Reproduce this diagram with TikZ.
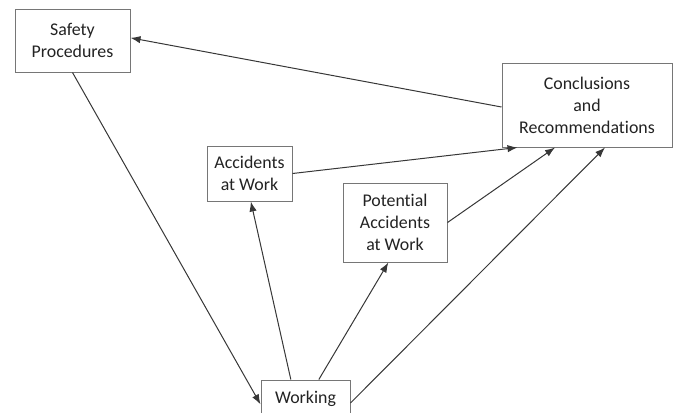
\documentclass[tikz,border=0pt]{standalone}
\usepackage{fontspec}
\setmainfont{Carlito}[Ligatures=NoCommon]
\usetikzlibrary{arrows.meta}

\tikzset{every picture/.style={line width=0.75pt}}
\tikzset{
  box/.style={draw={rgb, 255:red, 118; green, 118; blue, 118 }, fill=white, align=center, inner sep=0.75pt,
    text={rgb, 255:red, 35; green, 35; blue, 35 }, font=\fontsize{13.4}{16.5}\selectfont},
  link/.style={draw={rgb, 255:red, 55; green, 55; blue, 55 }, -{Latex[length=7.5pt,width=5.5pt]}}
}

\begin{document}
\begin{tikzpicture}[x=0.75pt,y=0.75pt,yscale=-1,xscale=1]
\useasboundingbox (0,0) rectangle (678,412);

% Text Node
\node [box, minimum width=86.25, minimum height=47.25] (safety) at (72.5,40.5) {Safety\\Procedures};
% Text Node
\node [box, minimum width=127.5, minimum height=63] (conc) at (587,105) {Conclusions\\and\\Recommendations};
% Text Node
\node [box, minimum width=63.75, minimum height=41.25] (acc) at (249.5,173.5) {Accidents\\at Work};
% Text Node
\node [box, minimum width=78, minimum height=59.25] (pot) at (395,222.5) {Potential\\Accidents\\at Work};
% Text Node
\node [box, minimum width=66.75, minimum height=28.5] (work) at (305.5,399) {Working};

%Straight Lines
\draw [link] ([yshift=1.5pt]conc.west) -- ([yshift=-2pt]safety.east) ;
%Straight Lines
\draw [link] (safety.south) -- ([yshift=4pt]work.west) ;
%Straight Lines
\draw [link] ([xshift=-11pt]work.north) -- ([xshift=1pt]acc.south) ;
%Straight Lines
\draw [link] ([xshift=10pt]work.north) -- ([xshift=-5pt]pot.south) ;
%Straight Lines
\draw [link] ([yshift=3pt]work.east) -- ([xshift=13.5pt]conc.south) ;
%Straight Lines
\draw [link] (acc.east) -- ([xshift=12pt]conc.south west) ;
%Straight Lines
\draw [link] (pot.east) -- ([xshift=-24pt]conc.south) ;

\end{tikzpicture}
\end{document}
